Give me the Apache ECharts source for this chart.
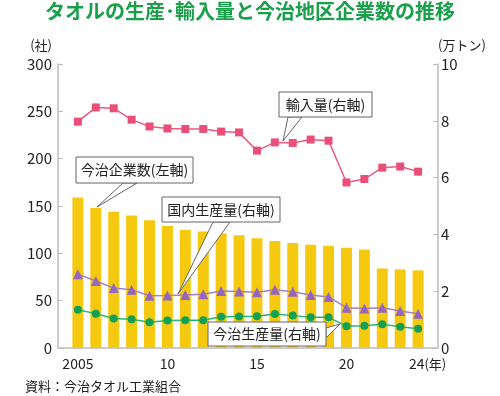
<!DOCTYPE html>
<html>
<head>
<meta charset="utf-8">
<script src="https://cdn.jsdelivr.net/npm/echarts@6/dist/echarts.min.js"></script>
<style>
  html, body { margin: 0; padding: 0; background: #fff; }
  #chart { width: 500px; height: 396px; }
</style>
</head>
<body>
<div id="chart"></div>
<script>
const font = '"Noto Sans CJK JP", "Noto Sans", sans-serif'

const years = [2005, 2006, 2007, 2008, 2009, 2010, 2011, 2012, 2013, 2014,
  2015, 2016, 2017, 2018, 2019, 2020, 2021, 2022, 2023, 2024]
// 今治企業数 (社, left axis)
const companies = [159, 148, 144, 140, 135, 129, 125, 123, 121, 119,
  116, 113, 111, 109, 108, 106, 104, 84, 83, 82]
// 輸入量 (万トン, right axis)
const imports = [7.97, 8.47, 8.44, 8.04, 7.80, 7.73, 7.71, 7.71, 7.62, 7.59,
  6.95, 7.24, 7.22, 7.34, 7.30, 5.83, 5.95, 6.35, 6.39, 6.21]
// 国内生産量 (万トン)
const domestic = [2.60, 2.36, 2.11, 2.05, 1.84, 1.85, 1.87, 1.89, 2.01, 1.99,
  1.96, 2.05, 1.98, 1.87, 1.80, 1.42, 1.39, 1.42, 1.30, 1.21]
// 今治生産量 (万トン)
const imabari = [1.35, 1.21, 1.04, 1.01, 0.91, 0.97, 0.98, 0.98, 1.10, 1.11,
  1.12, 1.20, 1.14, 1.08, 1.08, 0.77, 0.78, 0.84, 0.75, 0.68]
const yearLabels = { 2005: '2005', 2010: '10', 2015: '15', 2020: '20', 2024: '{pad|}24{n|(年)}' }

const pairs = arr => years.map((y, i) => [y, arr[i]])

// callout box: rect + text + pointer triangle
function callout(x, y, w, h, text, tip, base) {
  return [
    {
      type: 'polygon', z: 100,
      shape: { points: [base[0], tip, base[1]] },
      style: { fill: '#fff', stroke: '#666', lineWidth: 1 }
    },
    {
      type: 'rect', z: 101,
      shape: { x: x, y: y, width: w, height: h },
      style: { fill: '#fff', stroke: '#666', lineWidth: 1 }
    },
    {
      type: 'text', z: 102,
      x: x + w / 2, y: y + h / 2,
      style: { text: text, fill: '#222', font: '14px ' + font, align: 'center', verticalAlign: 'middle' }
    }
  ]
}

const chart = echarts.init(document.getElementById('chart'))

chart.setOption({
  animation: false,
  textStyle: { fontFamily: font },
  title: {
    text: 'タオルの生産･輸入量と今治地区企業数の推移',
    left: 'center', top: 1, padding: 0,
    textStyle: { color: '#1aa04a', fontSize: 20, fontWeight: 'bold', fontFamily: font }
  },
  grid: { left: 60, right: 64, top: 64, bottom: 48 },
  xAxis: {
    type: 'value', min: 2004, max: 2025, interval: 1,
    axisLine: { lineStyle: { color: '#bbb', width: 1.5 } },
    axisTick: { show: false },
    splitLine: { show: false },
    axisLabel: {
      color: '#222', fontSize: 14, margin: 9,
      formatter: v => yearLabels[v] || '',
      rich: {
        pad: { width: 19 },
        n: { fontSize: 13, color: '#222' }
      }
    }
  },
  yAxis: [
    {
      type: 'value', min: 0, max: 300, interval: 50, offset: 2,
      name: '(社)', nameLocation: 'end', nameGap: 12,
      nameTextStyle: { color: '#222', fontSize: 13, align: 'right', padding: [0, 6, 0, 0] },
      axisLine: { show: true, lineStyle: { color: '#bbb', width: 1.5 } },
      axisTick: { show: true, inside: true, length: 5, lineStyle: { color: '#bbb' } },
      splitLine: { show: false },
      axisLabel: { color: '#222', fontSize: 15, margin: 6 }
    },
    {
      type: 'value', min: 0, max: 10, interval: 2, offset: 2,
      name: '(万トン)', nameLocation: 'end', nameGap: 12,
      nameTextStyle: { color: '#222', fontSize: 13, align: 'left', padding: [0, 0, 0, 0] },
      axisLine: { show: true, lineStyle: { color: '#bbb', width: 1.5 } },
      axisTick: { show: true, inside: true, length: 5, lineStyle: { color: '#bbb' } },
      splitLine: { show: false },
      axisLabel: { color: '#222', fontSize: 15, margin: 3 }
    }
  ],
  series: [
    {
      name: '今治企業数', type: 'bar', yAxisIndex: 0,
      barWidth: 11, itemStyle: { color: '#f5c90f' },
      data: pairs(companies)
    },
    {
      name: '輸入量', type: 'line', yAxisIndex: 1,
      symbol: 'rect', symbolSize: 8,
      lineStyle: { color: '#ea5a80', width: 1.5 },
      itemStyle: { color: '#e8507a' },
      data: pairs(imports)
    },
    {
      name: '国内生産量', type: 'line', yAxisIndex: 1,
      symbol: 'triangle', symbolSize: 10,
      lineStyle: { color: '#a47fcc', width: 1.5 },
      itemStyle: { color: '#9466bd' },
      data: pairs(domestic)
    },
    {
      name: '今治生産量', type: 'line', yAxisIndex: 1,
      symbol: 'circle', symbolSize: 8,
      lineStyle: { color: '#2bb46c', width: 1.5 },
      itemStyle: { color: '#13a055' },
      data: pairs(imabari)
    }
  ],
  graphic: [
    ...callout(279, 92, 93, 25, '輸入量(右軸)', [283, 141], [[288, 117], [302, 117]]),
    ...callout(76, 157, 117, 26, '今治企業数(左軸)', [97, 207], [[123, 183], [137, 183]]),
    ...callout(162, 197, 118, 25, '国内生産量(右軸)', [178, 294], [[213, 222], [230, 222]]),
    ...callout(208, 322, 118, 24, '今治生産量(右軸)', [340, 324], [[326, 328], [326, 338]]),
    {
      type: 'text', left: 25, top: 380,
      style: { text: '資料：今治タオル工業組合', fill: '#222', font: '13px ' + font }
    }
  ]
})
</script>
</body>
</html>
